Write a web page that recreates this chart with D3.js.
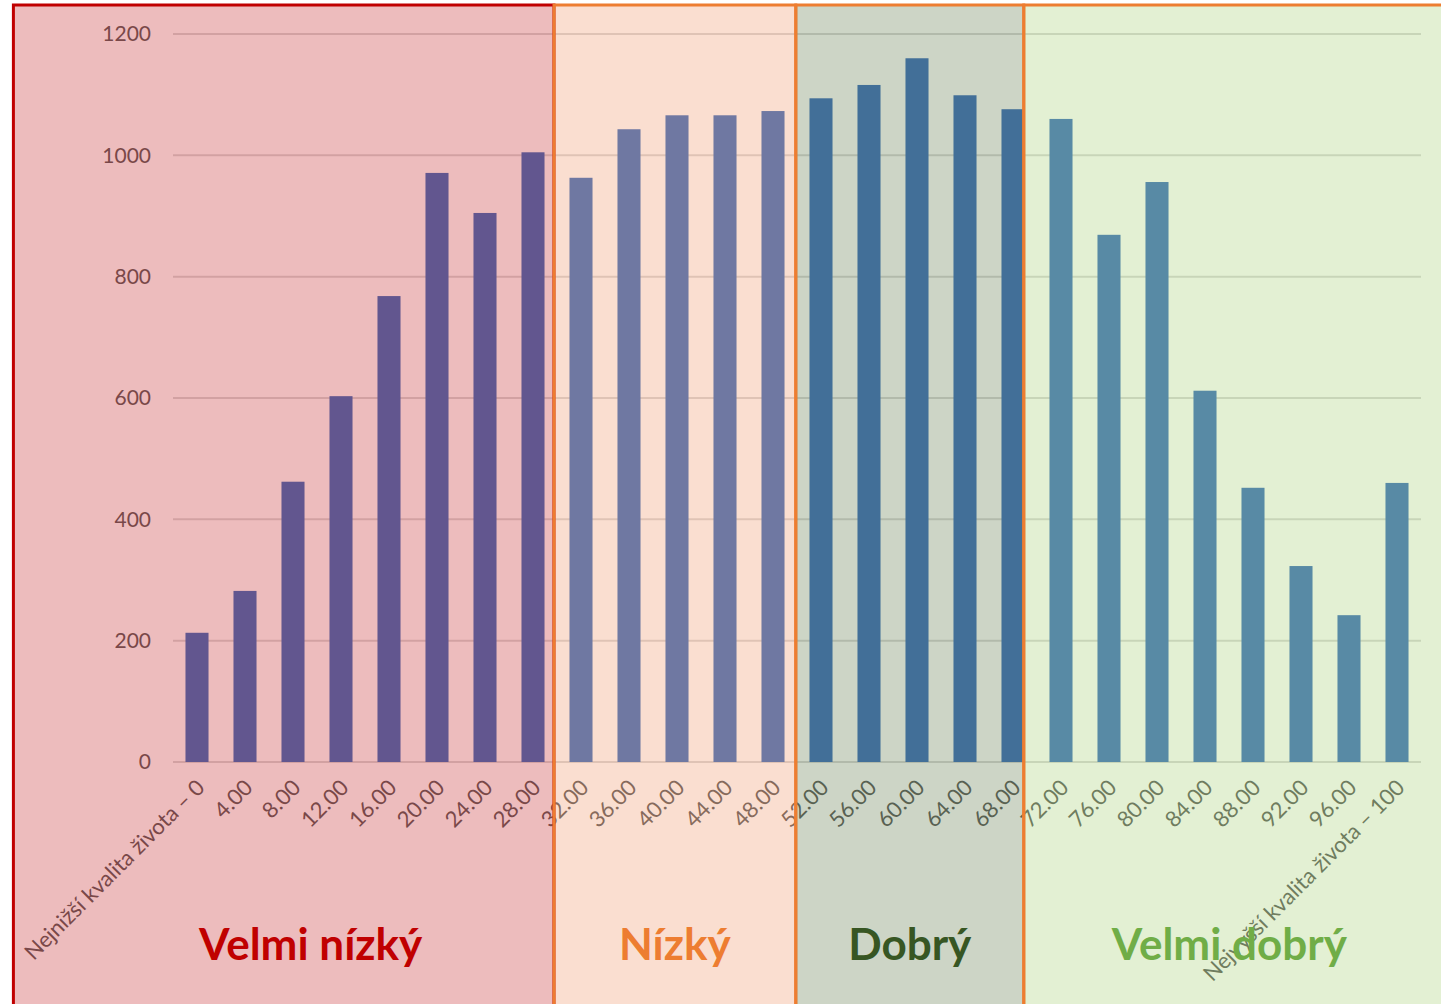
<!DOCTYPE html>
<html>
<head>
<meta charset="utf-8">
<script src="https://cdn.jsdelivr.net/npm/d3@7"></script>
<style>
  body { margin: 0; background: #fff; }
  svg { display: block; }
</style>
</head>
<body>
<div id="chart"></div>
<script>
(function() {
  var width = 1441, height = 1004;
  var margin = { top: 34, left: 173, right: 20, bottom: 242 };
  var innerW = width - margin.left - margin.right,
      innerH = height - margin.top - margin.bottom;

  // categories along the x-axis (quality of life score)
  var categories = ["Nejnižší kvalita života – 0", "4.00", "8.00", "12.00", "16.00", "20.00",
    "24.00", "28.00", "32.00", "36.00", "40.00", "44.00", "48.00", "52.00", "56.00",
    "60.00", "64.00", "68.00", "72.00", "76.00", "80.00", "84.00", "88.00", "92.00",
    "96.00", "Nejvyšší kvalita života – 100"];

  // counts per category
  var counts = [213, 282, 462, 603, 768, 971, 905, 1005, 963, 1043, 1066, 1066, 1073,
    1094, 1116, 1160, 1099, 1076, 1060, 869, 956, 612, 452, 323, 242, 460];

  var yTicks = [0, 200, 400, 600, 800, 1000, 1200];

  // highlighted bands, in score units (0-100)
  var bandNames  = ["Velmi nízký", "Nízký", "Dobrý", "Velmi dobrý"];
  var bandFrom   = [-15.3, 29.75, 49.9, 68.9];
  var bandTo     = [29.75, 49.9, 68.9, 105];
  var bandFill   = ["#c32023", "#ee9162", "#587341", "#a2cd6c"];
  var bandStroke = ["#c00000", "#ed7d31", "#ed7d31", "#ed7d31"];
  var bandTitle  = ["#c00000", "#ed7d31", "#375623", "#70ad47"];
  var titleShift = [27, 0, 0, -11];

  var svg = d3.select("#chart")
    .append("svg")
    .attr("width", width)
    .attr("height", height);

  svg.append("rect").attr("width", width).attr("height", height).attr("fill", "#fff");

  var g = svg.append("g")
    .attr("transform", "translate(" + margin.left + "," + margin.top + ")");

  var x = d3.scaleBand().domain(categories).range([0, innerW]).paddingInner(0.52).paddingOuter(0.26);
  var y = d3.scaleLinear().domain([0, 1200]).range([innerH, 0]);

  // score -> pixel, through the first and last category centres
  var score = d3.scaleLinear().domain([0, 100])
    .range([x(categories[0]) + x.bandwidth() / 2, x(categories[categories.length - 1]) + x.bandwidth() / 2]);

  // gridlines
  g.append("g")
    .selectAll("line")
    .data(yTicks)
    .enter().append("line")
    .attr("x1", 0)
    .attr("x2", innerW)
    .attr("y1", function(d) { return y(d); })
    .attr("y2", function(d) { return y(d); })
    .attr("stroke", "#d9d9d9")
    .attr("stroke-width", 2);

  // y axis labels
  var yAxis = d3.axisLeft(y).tickValues(yTicks).tickFormat(d3.format("d")).tickSize(0).tickPadding(22);
  g.append("g")
    .attr("class", "axis y-axis")
    .call(yAxis)
    .call(function(s) { s.select(".domain").remove(); })
    .selectAll("text")
    .style("font-family", "Lato")
    .style("font-size", "21px")
    .attr("fill", "#595959");

  // bars
  g.selectAll("rect.bar")
    .data(counts)
    .enter().append("rect")
    .attr("class", "bar")
    .attr("x", function(d, i) { return x(categories[i]); })
    .attr("width", x.bandwidth())
    .attr("y", function(d) { return y(d); })
    .attr("height", function(d) { return innerH - y(d); })
    .attr("fill", "#386dbd");

  // x axis labels
  var xAxis = d3.axisBottom(x).tickSize(0).tickPadding(0);
  g.append("g")
    .attr("class", "axis x-axis")
    .attr("transform", "translate(0," + innerH + ")")
    .call(xAxis)
    .call(function(s) { s.select(".domain").remove(); })
    .selectAll("text")
    .attr("text-anchor", "end")
    .attr("y", 0)
    .attr("dy", 0)
    .attr("transform", "translate(9,27) rotate(-45)")
    .style("font-family", "Lato")
    .style("font-size", "22px")
    .attr("fill", "#595959");

  // translucent bands laid over the chart
  var bands = svg.append("g").selectAll("g")
    .data(bandNames)
    .enter().append("g");

  bands.append("rect")
    .attr("x", function(d, i) { return margin.left + score(bandFrom[i]); })
    .attr("y", 5)
    .attr("width", function(d, i) { return score(bandTo[i]) - score(bandFrom[i]); })
    .attr("height", height + 20)
    .attr("fill", function(d, i) { return bandFill[i]; })
    .attr("fill-opacity", 0.3)
    .attr("stroke", function(d, i) { return bandStroke[i]; })
    .attr("stroke-width", 3);

  bands.append("text")
    .attr("x", function(d, i) { return margin.left + score((bandFrom[i] + bandTo[i]) / 2) + titleShift[i]; })
    .attr("y", 960)
    .attr("text-anchor", "middle")
    .style("font-family", "Lato")
    .style("font-weight", "bold")
    .style("font-size", "44px")
    .attr("fill", function(d, i) { return bandTitle[i]; })
    .text(function(d) { return d; });
})();
</script>
</body>
</html>
